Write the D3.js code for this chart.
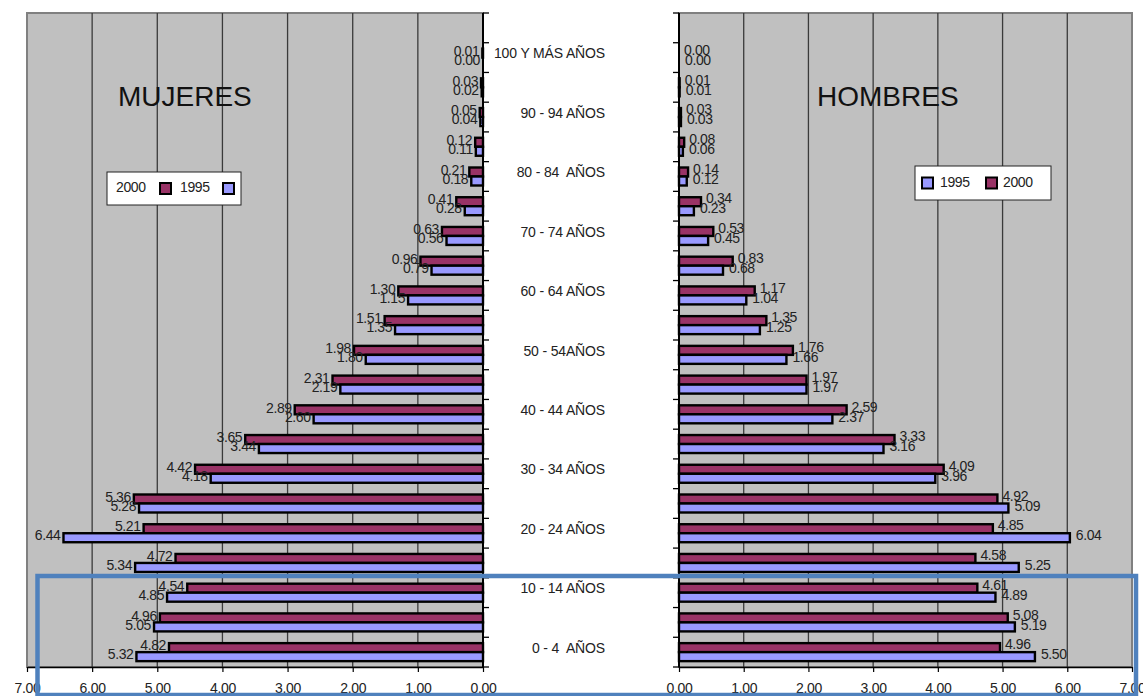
<!DOCTYPE html>
<html><head><meta charset="utf-8">
<script src="https://cdn.jsdelivr.net/npm/d3@7"></script>
<style>
body{margin:0;background:#fff;}
svg{display:block;font-family:"Liberation Sans",Arial,sans-serif;}
</style></head>
<body><svg id="c" width="1143" height="696"></svg>
<script>
// Age groups, top to bottom
const ages = ["100+","95-99","90-94","85-89","80-84","75-79","70-74","65-69","60-64","55-59","50-54","45-49","40-44","35-39","30-34","25-29","20-24","15-19","10-14","5-9","0-4"];
const ageLabels = ["100 Y MÁS AÑOS","","90 - 94 AÑOS","","80 - 84  AÑOS","","70 - 74 AÑOS","","60 - 64 AÑOS","","50 - 54AÑOS","","40 - 44 AÑOS","","30 - 34 AÑOS","","20 - 24 AÑOS","","10 - 14 AÑOS","","0 - 4  AÑOS"];
const mujeres2000 = [0.01,0.03,0.05,0.12,0.21,0.41,0.63,0.96,1.30,1.51,1.98,2.31,2.89,3.65,4.42,5.36,5.21,4.72,4.54,4.96,4.82];
const mujeres1995 = [0.00,0.02,0.04,0.11,0.18,0.28,0.56,0.79,1.15,1.35,1.80,2.19,2.60,3.44,4.18,5.28,6.44,5.34,4.85,5.05,5.32];
const hombres2000 = [0.00,0.01,0.03,0.08,0.14,0.34,0.53,0.83,1.17,1.35,1.76,1.97,2.59,3.33,4.09,4.92,4.85,4.58,4.61,5.08,4.96];
const hombres1995 = [0.00,0.01,0.03,0.06,0.12,0.23,0.45,0.68,1.04,1.25,1.66,1.97,2.37,3.16,3.96,5.09,6.04,5.25,4.89,5.19,5.50];
const xTicks = [0,1,2,3,4,5,6,7];
const seriesNames = ["1995","2000"];
const colors = {"2000":"#993366","1995":"#9999FF"};

const svg = d3.select("#c");
const yTop = 13, yBot = 667;
const step = (yBot - yTop) / 22;
const y = d3.scaleBand().domain(ages).range([yTop + step, yBot]).paddingInner(0).paddingOuter(0);
const xL = d3.scaleLinear().domain([0,7]).range([483, 27]);
const xR = d3.scaleLinear().domain([0,7]).range([679, 1132]);
const fmt = d3.format(".2f");
const barH = 9;

function panel(x, d2000, d1995, side){
  const g = svg.append("g");
  const x0 = x(0), x7 = x(7);
  g.append("rect").attr("x", Math.min(x0,x7)).attr("y", yTop).attr("width", Math.abs(x7-x0)).attr("height", yBot-yTop)
    .attr("fill","#C0C0C0").attr("stroke","#808080").attr("stroke-width",2);
  g.selectAll("line.grid").data(xTicks.filter(t=>t>0 && t<7)).join("line")
    .attr("x1", d=>x(d)).attr("x2", d=>x(d)).attr("y1", yTop).attr("y2", yBot)
    .attr("stroke","#3a3a3a").attr("stroke-width",1.3);
  const rows = ages.map((a,i)=>({a, v2000:d2000[i], v1995:d1995[i]}));
  const bg = g.append("g");
  rows.forEach(r=>{
    const cy = y(r.a) + y.bandwidth()/2;
    [["2000", r.v2000, cy - barH], ["1995", r.v1995, cy]].forEach(([s,v,yy])=>{
      bg.append("rect").attr("x", Math.min(x(0), x(v))).attr("y", yy).attr("width", Math.abs(x(v)-x(0))).attr("height", barH)
        .attr("fill", colors[s]).attr("stroke","#000").attr("stroke-width",2.4);
    });
  });
  const lg = g.append("g").attr("font-size",14).attr("fill","#222");
  rows.forEach(r=>{
    const cy = y(r.a) + y.bandwidth()/2;
    if(side==="L"){
      lg.append("text").attr("x", x(r.v2000)-3).attr("y", cy - barH/2 - 1).attr("text-anchor","end").attr("dominant-baseline","middle").attr("letter-spacing",-0.4).text(fmt(r.v2000));
      lg.append("text").attr("x", x(r.v1995)-3).attr("y", cy + barH/2 - 1).attr("text-anchor","end").attr("dominant-baseline","middle").attr("letter-spacing",-0.4).text(fmt(r.v1995));
    } else {
      lg.append("text").attr("x", x(r.v2000)+5).attr("y", cy - barH/2 - 2).attr("text-anchor","start").attr("dominant-baseline","middle").attr("letter-spacing",-0.4).text(fmt(r.v2000));
      lg.append("text").attr("x", x(r.v1995)+6).attr("y", cy + barH/2 - 1).attr("text-anchor","start").attr("dominant-baseline","middle").attr("letter-spacing",-0.4).text(fmt(r.v1995));
    }
  });
  const ax = x0;
  g.append("line").attr("x1",ax).attr("x2",ax).attr("y1",yTop).attr("y2",yBot).attr("stroke","#000").attr("stroke-width",2);
  const tickYs = [yTop].concat(ages.map(a=>y(a))).concat([yBot]);
  const dir = side==="L" ? 1 : -1;
  g.selectAll("line.yt").data(tickYs).join("line")
    .attr("x1",ax).attr("x2",ax+dir*6).attr("y1",d=>d).attr("y2",d=>d).attr("stroke","#000").attr("stroke-width",1.3);
  const axis = d3.axisBottom(x).tickValues(xTicks).tickFormat(fmt).tickSize(5).tickSizeOuter(0);
  const ag = g.append("g").attr("transform",`translate(0,${yBot})`).call(axis);
  ag.select(".domain").attr("stroke","#000").attr("stroke-width",1.5);
  ag.selectAll(".tick line").attr("stroke","#000").attr("stroke-width",1.2);
  ag.selectAll(".tick text").attr("font-size",14).attr("fill","#222").attr("font-family",'"Liberation Sans",Arial,sans-serif').attr("dy","1.25em").attr("letter-spacing",-0.3);
}
panel(xL, mujeres2000, mujeres1995, "L");
panel(xR, hombres2000, hombres1995, "R");

svg.append("g").selectAll("text").data(ages.map((a,i)=>({a, t:ageLabels[i]})).filter(d=>d.t)).join("text")
  .attr("x", 605).attr("y", d=>y(d.a)+y.bandwidth()/2 - 3)
  .attr("text-anchor","end").attr("dominant-baseline","middle")
  .attr("font-size",14).attr("fill","#222").attr("letter-spacing",-0.15)
  .style("white-space","pre").text(d=>d.t);

svg.append("text").attr("x",118).attr("y",106).attr("font-size",28).attr("fill","#111").text("MUJERES");
svg.append("text").attr("x",817).attr("y",106).attr("font-size",28).attr("fill","#111").text("HOMBRES");

function legend(x0, y0, w, h, items){
  const g = svg.append("g");
  g.append("rect").attr("x",x0).attr("y",y0).attr("width",w).attr("height",h).attr("fill","#fff").attr("stroke","#222").attr("stroke-width",1);
  items.forEach(it=>{
    if(it.type==="sq") g.append("rect").attr("x",it.x).attr("y",y0+h/2-5.5).attr("width",11).attr("height",11).attr("fill",colors[it.s]).attr("stroke","#000").attr("stroke-width",2);
    else g.append("text").attr("x",it.x).attr("y",y0+h/2).attr("dominant-baseline","middle").attr("font-size",14).attr("fill","#222").attr("letter-spacing",-0.4).text(it.s);
  });
}
legend(107,172,134,33,[{type:"tx",x:116,s:seriesNames[1]},{type:"sq",x:160,s:"2000"},{type:"tx",x:180,s:seriesNames[0]},{type:"sq",x:223,s:"1995"}]);
legend(915,166,136,34,[{type:"sq",x:922,s:"1995"},{type:"tx",x:940,s:seriesNames[0]},{type:"sq",x:986,s:"2000"},{type:"tx",x:1003,s:seriesNames[1]}]);

svg.append("rect").attr("x",37.5).attr("y",576).attr("width",1098.5).attr("height",119).attr("fill","none").attr("stroke","#4F81BD").attr("stroke-width",4.5);
</script></body></html>
